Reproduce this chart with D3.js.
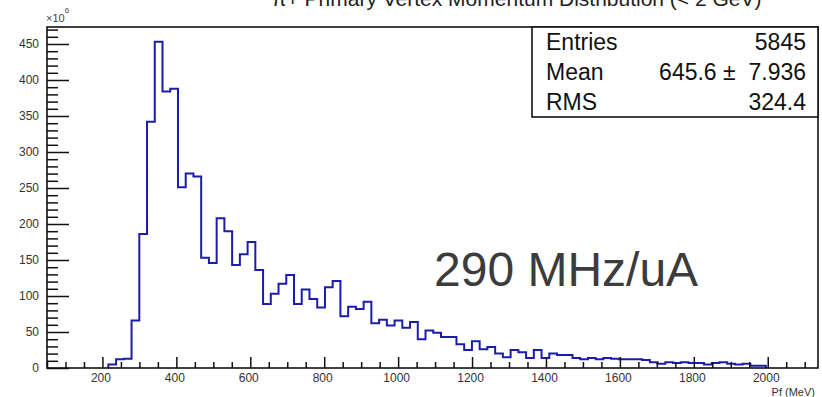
<!DOCTYPE html>
<html>
<head>
<meta charset="utf-8">
<script src="https://cdn.jsdelivr.net/npm/d3@7"></script>
<style>
  body { margin: 0; background: #fff; }
  text { font-family: "Liberation Sans", Arial, Helvetica, sans-serif; }
</style>
</head>
<body>
<div id="chart"></div>
<script>
// ==== Data ====
const binLo = 216;     // MeV, low edge of first bin
const binHi = 1995;    // MeV, high edge of last bin
const counts = [
  5, 12, 13, 66, 186, 342, 453, 384, 388, 251,
  270, 266, 153, 146, 208, 190, 143, 158, 175, 136,
  89, 103, 117, 129, 89, 109, 96, 84, 112, 121,
  72, 85, 82, 92, 62, 67, 59, 66, 56, 64,
  40, 52, 49, 43, 43, 33, 25, 37, 26, 29,
  20, 15, 25, 22, 14, 25, 14, 20, 18, 18,
  14, 12, 14, 12, 14, 13, 12, 12, 12, 11,
  8, 6, 8, 7, 8, 7, 7, 5, 7, 8,
  6, 5, 6, 3, 3
];
const xMajor = [200, 400, 600, 800, 1000, 1200, 1400, 1600, 1800, 2000];
const yMajor = [0, 50, 100, 150, 200, 250, 300, 350, 400, 450];
const statNames = ["Entries", "Mean", "RMS"];
const statValues = ["5845", "645.6 \u00b1  7.936", "324.4"];
const titleText = "\u03c0+ Primary Vertex Momentum Distribution (< 2 GeV)";
const xTitle = "Pf (MeV)";
const noteText = "290 MHz/uA";

// ==== Layout ====
const W = 822, H = 397;
const frame = { left: 47, right: 818, top: 27, bottom: 368 };

const svg = d3.select("#chart")
  .append("svg")
  .attr("width", W)
  .attr("height", H);

// ==== Scales ====
const xScale = d3.scaleLinear()
  .domain([50, 2136])
  .range([frame.left, frame.right]);

const yScale = d3.scaleLinear()
  .domain([0, 473.6])
  .range([frame.bottom, frame.top]);

// ==== Histogram outline ====
const step = (binHi - binLo) / counts.length;
const pts = [[binLo, 0]];
counts.forEach((c, i) => pts.push([binLo + i * step, c]));
pts.push([binHi, counts[counts.length - 1]]);
pts.push([binHi, 0]);

const line = d3.line()
  .x(d => xScale(d[0]))
  .y(d => yScale(d[1]))
  .curve(d3.curveStepAfter);

svg.append("path")
  .datum(pts)
  .attr("fill", "none")
  .attr("stroke", "#1c1caa")
  .attr("stroke-width", 2)
  .attr("d", line);

// ==== Axes ====
const xMinor = d3.range(50, 2136, 50).filter(v => v % 200 !== 0);
const yMinor = d3.range(0, 474, 10).filter(v => v % 50 !== 0);

function styleAxis(g) {
  g.select(".domain").remove();
  g.selectAll(".tick line").attr("stroke", "#111").attr("stroke-width", 1.5);
  g.selectAll(".tick text")
    .attr("fill", "#333")
    .style("font-size", "12px")
    .style("font-family", '"Liberation Sans", Arial, sans-serif');
}

svg.append("g")
  .attr("transform", `translate(0,${frame.bottom})`)
  .call(d3.axisBottom(xScale).tickValues(xMinor).tickSizeInner(-6).tickSizeOuter(0).tickFormat(""))
  .call(styleAxis);

svg.append("g")
  .attr("transform", `translate(0,${frame.bottom})`)
  .call(d3.axisBottom(xScale).tickValues(xMajor).tickSizeInner(-11).tickSizeOuter(0)
    .tickPadding(5).tickFormat(d3.format("d")))
  .call(styleAxis)
  .call(g => g.selectAll(".tick text").attr("dx", -2));

svg.append("g")
  .attr("transform", `translate(${frame.left},0)`)
  .call(d3.axisLeft(yScale).tickValues(yMinor).tickSizeInner(-11).tickSizeOuter(0).tickFormat(""))
  .call(styleAxis);

svg.append("g")
  .attr("transform", `translate(${frame.left},0)`)
  .call(d3.axisLeft(yScale).tickValues(yMajor).tickSizeInner(-22).tickSizeOuter(0).tickPadding(8))
  .call(styleAxis);

// frame
svg.append("rect")
  .attr("x", frame.left)
  .attr("y", frame.top)
  .attr("width", frame.right - frame.left)
  .attr("height", frame.bottom - frame.top)
  .attr("fill", "none")
  .attr("stroke", "#111")
  .attr("stroke-width", 1.6);

// exponent label
const expo = svg.append("text")
  .attr("x", 46)
  .attr("y", 22)
  .attr("fill", "#444")
  .style("font-size", "11px");
expo.append("tspan").text("\u00d710");
expo.append("tspan").attr("dy", -9).style("font-size", "8px").text("6");

// axis title
svg.append("text")
  .attr("x", 815)
  .attr("y", 396)
  .attr("text-anchor", "end")
  .attr("fill", "#333")
  .style("font-size", "11px")
  .text(xTitle);

// title
svg.append("text")
  .attr("x", 272)
  .attr("y", 6)
  .attr("fill", "#222")
  .style("font-size", "21px")
  .text(titleText);

// ==== Stats box ====
const box = { x: 532, y: 27, w: 286, h: 90 };
svg.append("rect")
  .attr("x", box.x)
  .attr("y", box.y)
  .attr("width", box.w)
  .attr("height", box.h)
  .attr("fill", "#fff")
  .attr("stroke", "#111")
  .attr("stroke-width", 1.6);

const rows = svg.append("g").selectAll("g")
  .data(statNames)
  .join("g")
  .attr("transform", (d, i) => `translate(0,${50 + i * 30})`);

rows.append("text")
  .attr("x", 546)
  .attr("fill", "#111")
  .style("font-size", "23px")
  .text(d => d);

rows.append("text")
  .attr("x", 806)
  .attr("text-anchor", "end")
  .attr("fill", "#111")
  .style("font-size", "23px")
  .style("white-space", "pre")
  .text((d, i) => statValues[i]);

// ==== Overlay note ====
svg.append("text")
  .attr("x", 434)
  .attr("y", 286)
  .attr("fill", "#3c3c3c")
  .style("font-size", "48px")
  .text(noteText);
</script>
</body>
</html>
